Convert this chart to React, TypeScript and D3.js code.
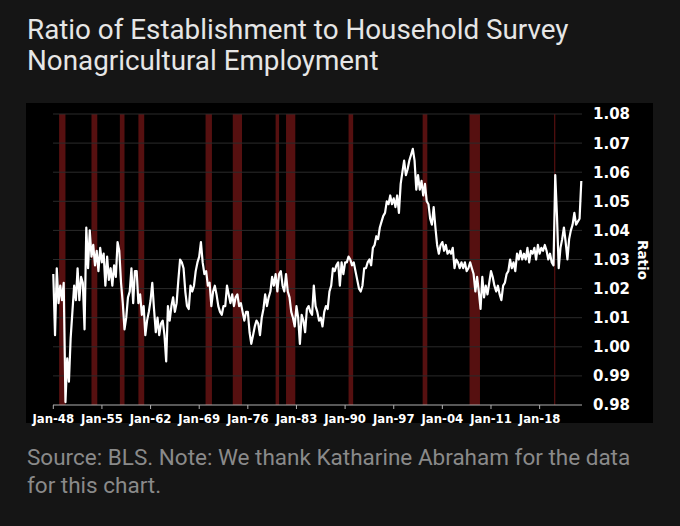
import React from 'react';
import * as d3 from 'd3';

// Quarterly ratio values, starting Jan 1948 (one value per quarter)
const START_YEAR = 1948;
const ratioQuarterly = [
  1.025, 1.004, 1.027, 1.015, // 1948
  1.021, 1.016, 1.022, 0.981, // 1949
  0.996, 0.988, 1.003, 1.012, // 1950
  1.021, 1.016, 1.027, 1.016, // 1951
  1.024, 1.022, 1.006, 1.041, // 1952
  1.027, 1.040, 1.031, 1.035, // 1953
  1.028, 1.033, 1.026, 1.034, // 1954
  1.029, 1.032, 1.021, 1.031, // 1955
  1.023, 1.027, 1.021, 1.028, // 1956
  1.024, 1.036, 1.033, 1.022, // 1957
  1.015, 1.006, 1.010, 1.017, // 1958
  1.019, 1.027, 1.015, 1.026, // 1959
  1.026, 1.015, 1.018, 1.011, // 1960
  1.014, 1.004, 1.009, 1.012, // 1961
  1.016, 1.022, 1.013, 1.005, // 1962
  1.010, 1.004, 1.008, 1.009, // 1963
  1.004, 0.995, 1.014, 1.009, // 1964
  1.014, 1.017, 1.012, 1.015, // 1965
  1.023, 1.030, 1.029, 1.027, // 1966
  1.019, 1.014, 1.013, 1.021, // 1967
  1.019, 1.021, 1.026, 1.029, // 1968
  1.031, 1.036, 1.029, 1.025, // 1969
  1.026, 1.021, 1.022, 1.014, // 1970
  1.019, 1.021, 1.018, 1.014, // 1971
  1.012, 1.011, 1.014, 1.014, // 1972
  1.021, 1.018, 1.015, 1.018, // 1973
  1.014, 1.017, 1.018, 1.014, // 1974
  1.015, 1.012, 1.009, 1.012, // 1975
  1.012, 1.005, 1.001, 1.004, // 1976
  1.007, 1.009, 1.008, 1.004, // 1977
  1.010, 1.013, 1.018, 1.014, // 1978
  1.017, 1.019, 1.024, 1.021, // 1979
  1.025, 1.019, 1.025, 1.026, // 1980
  1.021, 1.019, 1.025, 1.019, // 1981
  1.017, 1.012, 1.010, 1.007, // 1982
  1.014, 1.010, 1.001, 1.011, // 1983
  1.009, 1.005, 1.013, 1.014, // 1984
  1.012, 1.011, 1.021, 1.014, // 1985
  1.012, 1.009, 1.010, 1.007, // 1986
  1.012, 1.014, 1.013, 1.019, // 1987
  1.021, 1.027, 1.026, 1.028, // 1988
  1.029, 1.021, 1.029, 1.025, // 1989
  1.029, 1.029, 1.031, 1.030, // 1990
  1.028, 1.029, 1.026, 1.023, // 1991
  1.020, 1.019, 1.021, 1.027, // 1992
  1.027, 1.029, 1.030, 1.028, // 1993
  1.034, 1.035, 1.038, 1.037, // 1994
  1.041, 1.043, 1.045, 1.046, // 1995
  1.050, 1.049, 1.052, 1.049, // 1996
  1.051, 1.048, 1.052, 1.046, // 1997
  1.056, 1.060, 1.064, 1.059, // 1998
  1.061, 1.064, 1.066, 1.068, // 1999
  1.064, 1.054, 1.059, 1.054, // 2000
  1.057, 1.052, 1.056, 1.050, // 2001
  1.049, 1.044, 1.042, 1.048, // 2002
  1.041, 1.035, 1.032, 1.035, // 2003
  1.036, 1.033, 1.035, 1.032, // 2004
  1.033, 1.032, 1.034, 1.027, // 2005
  1.030, 1.029, 1.027, 1.029, // 2006
  1.027, 1.029, 1.026, 1.027, // 2007
  1.029, 1.027, 1.025, 1.019, // 2008
  1.024, 1.019, 1.013, 1.024, // 2009
  1.017, 1.021, 1.018, 1.022, // 2010
  1.026, 1.024, 1.021, 1.019, // 2011
  1.021, 1.018, 1.016, 1.021, // 2012
  1.022, 1.025, 1.026, 1.030, // 2013
  1.027, 1.029, 1.026, 1.032, // 2014
  1.030, 1.033, 1.030, 1.032, // 2015
  1.030, 1.034, 1.029, 1.033, // 2016
  1.032, 1.034, 1.030, 1.035, // 2017
  1.032, 1.034, 1.033, 1.035, // 2018
  1.033, 1.030, 1.032, 1.029, // 2019
  1.028, 1.059, 1.045, 1.027, // 2020
  1.034, 1.037, 1.041, 1.036, // 2021
  1.030, 1.037, 1.040, 1.042, // 2022
  1.046, 1.042, 1.043, 1.044, // 2023
  1.057, // 2024
];

const recessionStarts = ['1948-11', '1953-07', '1957-08', '1960-04', '1969-12', '1973-11', '1980-01', '1981-07', '1990-07', '2001-03', '2007-12', '2020-02'];
const recessionEnds = ['1949-10', '1954-05', '1958-04', '1961-02', '1970-11', '1975-03', '1980-07', '1982-11', '1991-03', '2001-11', '2009-06', '2020-04'];

const yTicks = [0.98, 0.99, 1.0, 1.01, 1.02, 1.03, 1.04, 1.05, 1.06, 1.07, 1.08];
const xTickYears = [1948, 1955, 1962, 1969, 1976, 1983, 1990, 1997, 2004, 2011, 2018];

const titleLines = ['Ratio of Establishment to Household Survey', 'Nonagricultural Employment'];
const footerLines = ['Source: BLS. Note: We thank Katharine Abraham for the data', 'for this chart.'];
const yAxisTitle = 'Ratio';

const W = 680;
const H = 526;

export default function App() {
  const parse = d3.timeParse('%Y-%m');
  const data = ratioQuarterly.map((v, i) => ({ date: new Date(START_YEAR, i * 3, 1), value: v }));

  const x = d3
    .scaleTime()
    .domain([new Date(1948, 0, 1), new Date(2024, 0, 1)])
    .range([53.3, 581.3]);
  const y = d3.scaleLinear().domain([0.98, 1.08]).range([405, 114]);

  const line = d3
    .line<{ date: Date; value: number }>()
    .x((d) => x(d.date))
    .y((d) => y(d.value))
    .curve(d3.curveLinear);

  const fmt = d3.timeFormat('%b-%y');
  const axisLeft = 53;
  const axisRight = 582;
  const labelFont = '"DejaVu Sans", Verdana, sans-serif';

  return (
    <svg
      width={W}
      height={H}
      style={{ position: 'absolute', left: 0, top: 0, display: 'block' }}
      xmlns="http://www.w3.org/2000/svg"
    >
      <rect x={0} y={0} width={W} height={H} fill="#151515" />
      {titleLines.map((t, i) => (
        <text
          key={t}
          x={27}
          y={39 + i * 31}
          fill="#e6e6e6"
          fontFamily="Roboto, sans-serif"
          fontSize={27.8}
        >
          {t}
        </text>
      ))}
      <rect x={26} y={103} width={627} height={320} fill="#000" />

      {recessionStarts.map((s, i) => {
        const x0 = x(parse(s)!);
        const x1 = x(parse(recessionEnds[i])!);
        return (
          <rect
            key={s}
            x={x0}
            y={y(1.08)}
            width={Math.max(1.2, x1 - x0)}
            height={y(0.98) - y(1.08)}
            fill="#561010"
          />
        );
      })}

      {yTicks.map((t) =>
        t === 0.98 ? null : (
          <line
            key={`g${t}`}
            x1={axisLeft}
            x2={axisRight}
            y1={y(t)}
            y2={y(t)}
            stroke="#2a2a2a"
            strokeWidth={1}
          />
        )
      )}

      <path d={line(data) || ''} fill="none" stroke="#ffffff" strokeWidth={2.2} strokeLinejoin="round" />

      <line x1={axisLeft} x2={axisRight} y1={405} y2={405} stroke="#b0b0b0" strokeWidth={1} />
      {xTickYears.map((yr) => {
        const xx = x(new Date(yr, 0, 1));
        return (
          <g key={yr}>
            <line x1={xx} x2={xx} y1={405} y2={409} stroke="#b0b0b0" strokeWidth={1} />
            <text
              x={xx}
              y={422.5}
              textAnchor="middle"
              fill="#ffffff"
              fontFamily={labelFont}
              fontWeight="bold"
              fontSize={11.7}
            >
              {fmt(new Date(yr, 0, 1))}
            </text>
          </g>
        );
      })}

      {yTicks.map((t) => (
        <text
          key={`l${t}`}
          x={593}
          y={y(t)}
          dy="0.36em"
          fill="#ffffff"
          fontFamily={labelFont}
          fontWeight="bold"
          fontSize={15}
        >
          {t.toFixed(2)}
        </text>
      ))}

      <text
        transform={`translate(643,260) rotate(90)`}
        textAnchor="middle"
        dy="0.36em"
        fill="#ffffff"
        fontFamily={labelFont}
        fontWeight="bold"
        fontSize={13.5}
      >
        {yAxisTitle}
      </text>

      {footerLines.map((t, i) => (
        <text
          key={t}
          x={27}
          y={465 + i * 28}
          fill="#8a8a8a"
          fontFamily="Roboto, sans-serif"
          fontSize={22.5}
        >
          {t}
        </text>
      ))}
    </svg>
  );
}
